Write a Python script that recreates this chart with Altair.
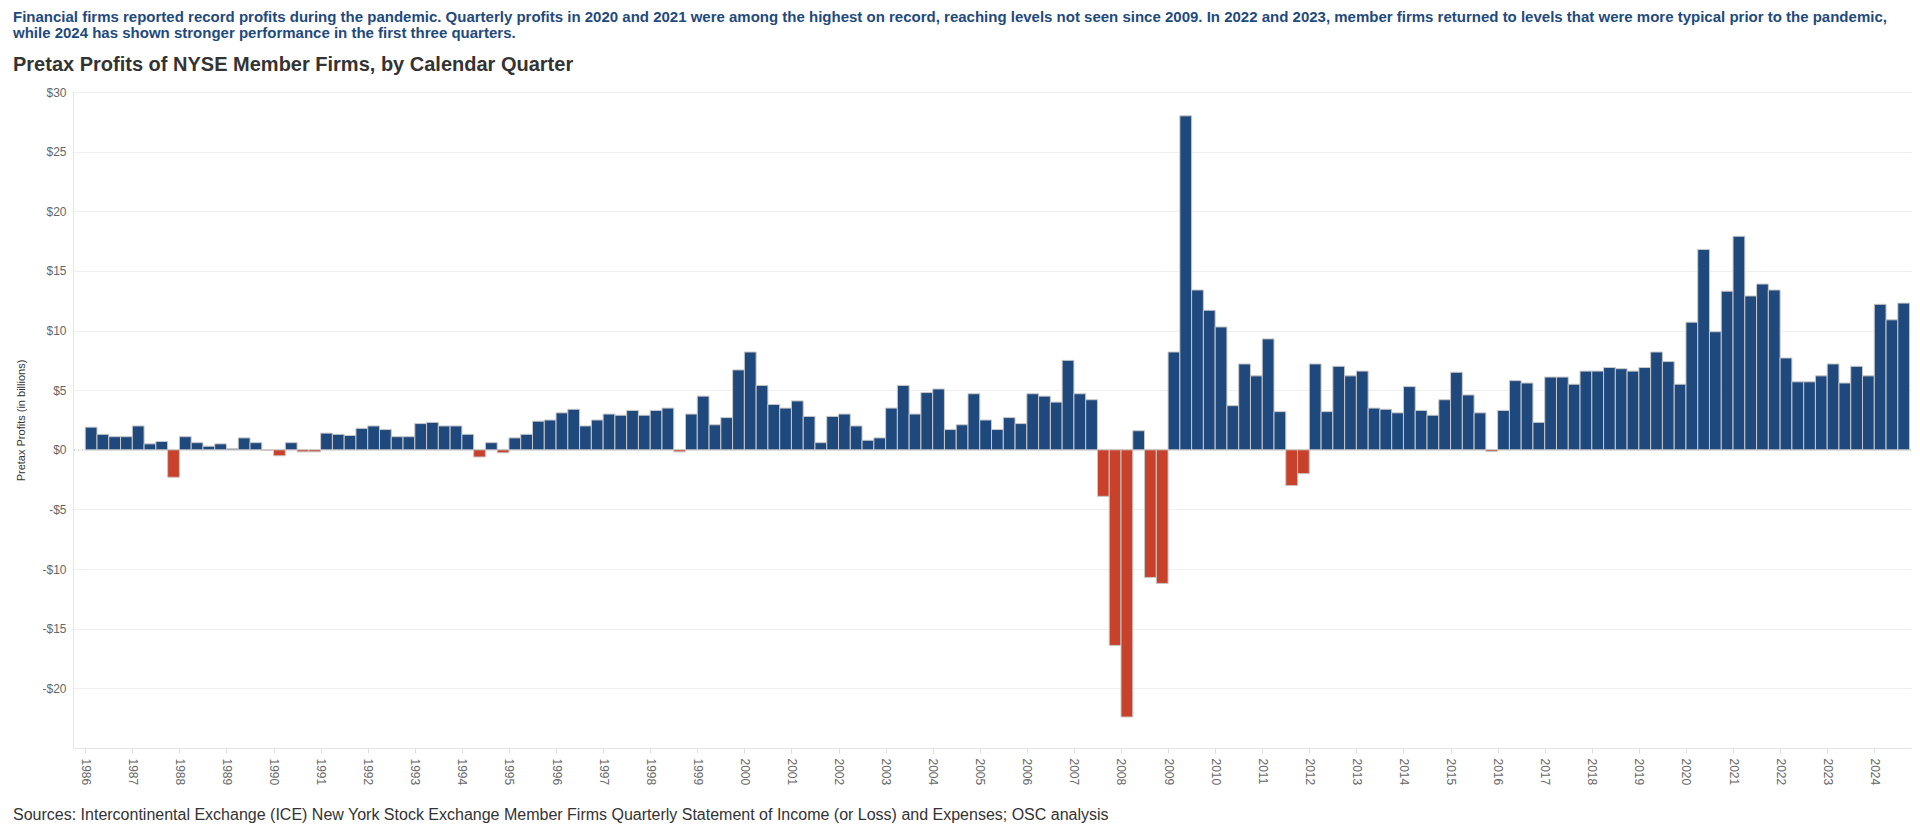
import altair as alt
import pandas as pd

# ---------------- data ----------------
first_year = 1986
years = list(range(1986, 2025))
quarters = ["Q1", "Q2", "Q3", "Q4"]

# Pretax profits (billions USD), 1986 Q1 .. 2024 Q3
profits = [
    1.9, 1.3, 1.1, 1.1,        # 1986
    2.0, 0.5, 0.7, -2.3,       # 1987
    1.1, 0.6, 0.3, 0.5,        # 1988
    0.1, 1.0, 0.6, -0.05,      # 1989
    -0.5, 0.6, -0.17, -0.17,   # 1990
    1.4, 1.3, 1.2, 1.8,        # 1991
    2.0, 1.7, 1.1, 1.1,        # 1992
    2.2, 2.3, 2.0, 2.0,        # 1993
    1.3, -0.6, 0.6, -0.25,     # 1994
    1.0, 1.3, 2.4, 2.5,        # 1995
    3.1, 3.4, 2.0, 2.5,        # 1996
    3.0, 2.9, 3.3, 2.9,        # 1997
    3.3, 3.5, -0.17, 3.0,      # 1998
    4.5, 2.1, 2.7, 6.7,        # 1999
    8.2, 5.4, 3.8, 3.5,        # 2000
    4.1, 2.8, 0.6, 2.8,        # 2001
    3.0, 2.0, 0.8, 1.0,        # 2002
    3.5, 5.4, 3.0, 4.8,        # 2003
    5.1, 1.7, 2.1, 4.7,        # 2004
    2.5, 1.7, 2.7, 2.2,        # 2005
    4.7, 4.5, 4.0, 7.5,        # 2006
    4.7, 4.2, -3.9, -16.4,     # 2007
    -22.4, 1.6, -10.7, -11.2,  # 2008
    8.2, 28.0, 13.4, 11.7,     # 2009
    10.3, 3.7, 7.2, 6.2,       # 2010
    9.3, 3.2, -3.0, -2.0,      # 2011
    7.2, 3.2, 7.0, 6.2,        # 2012
    6.6, 3.5, 3.4, 3.1,        # 2013
    5.3, 3.3, 2.9, 4.2,        # 2014
    6.5, 4.6, 3.1, -0.14,      # 2015
    3.3, 5.8, 5.6, 2.3,        # 2016
    6.1, 6.1, 5.5, 6.6,        # 2017
    6.6, 6.9, 6.8, 6.6,        # 2018
    6.9, 8.2, 7.4, 5.5,        # 2019
    10.7, 16.8, 9.9, 13.3,     # 2020
    17.9, 12.9, 13.9, 13.4,    # 2021
    7.7, 5.7, 5.7, 6.2,        # 2022
    7.2, 5.6, 7.0, 6.2,        # 2023
    12.2, 10.9, 12.3,          # 2024
]

y_ticks = [-20, -15, -10, -5, 0, 5, 10, 15, 20, 25, 30]

headline = [
    "Financial firms reported record profits during the pandemic. Quarterly profits in 2020 and 2021 were among the highest on record, reaching levels not seen since 2009. In 2022 and 2023, member firms returned to levels that were more typical prior to the pandemic,",
    "while 2024 has shown stronger performance in the first three quarters.",
]
chart_title = "Pretax Profits of NYSE Member Firms, by Calendar Quarter"
source_note = ("Sources: Intercontinental Exchange (ICE) New York Stock Exchange Member Firms "
               "Quarterly Statement of Income (or Loss) and Expenses; OSC analysis")

# ---------------- table ----------------
rows = []
for i, v in enumerate(profits):
    yr = first_year + i // 4
    qi = i % 4
    rows.append({
        "year": yr,
        "quarter": quarters[qi],
        "start": yr + qi / 4,
        "end": yr + qi / 4 + 0.25,
        "profit": v,
        "base": 0,
        "sign": "Gain" if v >= 0 else "Loss",
    })
df = pd.DataFrame(rows)

FONT = "Liberation Sans"
BLUE = "#1F497D"
RED = "#C8412B"

x_enc = alt.X(
    "start:Q",
    scale=alt.Scale(domain=[1985.74, 2024.78], nice=False, zero=False),
    axis=alt.Axis(values=years, format="d", labelAngle=90, grid=False, title=None,
                  ticks=True, tickSize=5, tickColor="#dddddd", domainColor="#e6e6e6",
                  labelPadding=5, labelFontSize=12, labelColor="#666666", labelFont=FONT),
)
y_enc = alt.Y(
    "profit:Q",
    scale=alt.Scale(domain=[-25, 30], nice=False),
    axis=alt.Axis(values=y_ticks, title="Pretax Profits (in billions)",
                  labelExpr="datum.value < 0 ? '-$' + abs(datum.value) : '$' + datum.value",
                  ticks=False, grid=True, gridColor="#efefef", domainColor="#e6e6e6",
                  labelPadding=7, labelFontSize=12, labelColor="#666666", labelFont=FONT,
                  titleFontSize=11, titleColor="#333333", titleFontWeight="normal",
                  titleFont=FONT, titlePadding=15),
)

bars = alt.Chart(df).mark_bar(stroke="#c8c8c8", strokeWidth=1).encode(
    x=x_enc,
    x2="end:Q",
    y=y_enc,
    y2="base:Q",
    color=alt.Color("sign:N", scale=alt.Scale(domain=["Gain", "Loss"], range=[BLUE, RED]),
                    legend=None),
    tooltip=["year:O", "quarter:N", "profit:Q"],
)

zero_rule = alt.Chart(pd.DataFrame({"zero": [0]})).mark_rule(
    color="#bbbbbb", strokeDash=[1, 3], strokeWidth=1
).encode(y="zero:Q")

source = alt.Chart(pd.DataFrame({"src": [source_note]})).mark_text(
    align="left", baseline="middle", fontSize=16, font=FONT, color="#333333"
).encode(text="src:N", x=alt.value(-60), y=alt.value(723))

chart = alt.layer(zero_rule, bars, source).properties(
    width=1838,
    height=656,
    padding={"left": 5, "top": 2, "right": 0, "bottom": 0},
    title=alt.TitleParams(
        text=headline,
        subtitle=chart_title,
        anchor="start",
        frame="bounds",
        font=FONT,
        fontSize=15,
        fontWeight="bold",
        color="#1F4A7C",
        lineHeight=16,
        subtitleFont=FONT,
        subtitleFontSize=20,
        subtitleFontWeight="bold",
        subtitleColor="#333333",
        subtitleLineHeight=22,
        subtitlePadding=14,
        offset=11,
    ),
).configure_view(stroke=None)

chart.save("out.html", embed_options={"renderer": "svg", "actions": False})
